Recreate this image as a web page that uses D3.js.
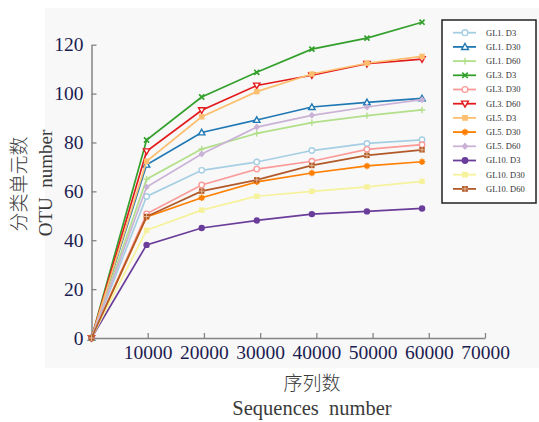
<!DOCTYPE html>
<html>
<head>
<meta charset="utf-8">
<script src="https://cdn.jsdelivr.net/npm/d3@7"></script>
<style>
  body { margin: 0; background: #fff; }
  svg { display: block; }
</style>
</head>
<body>
<div id="chart"></div>
<script>
// rarefaction steps (sequences)
var steps = [0, 9800, 19600, 29400, 39200, 49000, 58800];

// series names and OTU values
var names = ["GL1. D3", "GL1. D30", "GL1. D60", "GL3. D3", "GL3. D30", "GL3. D60",
             "GL5. D3", "GL5. D30", "GL5. D60", "GL10. D3", "GL10. D30", "GL10. D60"];
var gl1d3   = [0, 57.9, 68.6, 72.0, 76.7, 79.6, 81.1];
var gl1d30  = [0, 70.9, 84.1, 89.2, 94.5, 96.4, 98.0];
var gl1d60  = [0, 65.0, 77.3, 83.7, 88.1, 91.0, 93.3];
var gl3d3   = [0, 81.0, 98.6, 108.7, 118.2, 122.7, 129.2];
var gl3d30  = [0, 50.8, 62.6, 69.1, 72.3, 77.2, 79.1];
var gl3d60  = [0, 76.4, 93.2, 103.3, 107.5, 112.2, 114.1];
var gl5d3   = [0, 72.3, 90.5, 100.8, 108.0, 112.4, 115.2];
var gl5d30  = [0, 49.5, 57.4, 63.9, 67.5, 70.4, 72.1];
var gl5d60  = [0, 61.8, 75.3, 86.3, 91.1, 94.5, 97.5];
var gl10d3  = [0, 38.1, 45.0, 48.1, 50.7, 51.8, 53.0];
var gl10d30 = [0, 44.1, 52.3, 58.0, 60.0, 61.8, 64.1];
var gl10d60 = [0, 49.7, 60.1, 64.7, 70.6, 74.7, 77.0];
var values = [gl1d3, gl1d30, gl1d60, gl3d3, gl3d30, gl3d60,
              gl5d3, gl5d30, gl5d60, gl10d3, gl10d30, gl10d60];

var xTicks = [10000, 20000, 30000, 40000, 50000, 60000, 70000];
var yTicks = [0, 20, 40, 60, 80, 100, 120];

var colors = d3.schemePaired.slice();
colors[10] = "#f6f29c"; // the yellow reads a bit paler in the picture
var markers = ["circleOpen", "triUp", "plus", "cross", "circleOpen", "triDown",
               "square", "star", "diamond", "circle", "square", "squareCross"];

var svgWidth = 539, svgHeight = 422;

var svg = d3.select("#chart").append("svg")
  .attr("width", svgWidth)
  .attr("height", svgHeight);

// grey panel behind the chart
svg.append("rect")
  .attr("x", 45).attr("y", 8)
  .attr("width", 494).attr("height", 360)
  .attr("fill", "#f8f8f8");

var x = d3.scaleLinear().domain([0, 70000]).range([91.5, 485]);
var y = d3.scaleLinear().domain([0, 120]).range([338, 44.7]);

var tickColor = "#1c1c50";
var serif = "'Liberation Serif', 'Times New Roman', serif";

// axes
var xAxis = svg.append("g")
  .attr("transform", "translate(0,338)")
  .call(d3.axisBottom(x).tickValues(xTicks).tickFormat(d3.format("d"))
    .tickSizeInner(-5).tickSizeOuter(0).tickPadding(7));

var yAxis = svg.append("g")
  .attr("transform", "translate(91.5,0)")
  .call(d3.axisLeft(y).tickValues(yTicks)
    .tickSizeInner(-5).tickSizeOuter(0).tickPadding(8));

[xAxis, yAxis].forEach(function (g) {
  g.select(".domain").attr("stroke", "#858585").attr("stroke-width", 1.5);
  g.selectAll(".tick line").attr("stroke", "#858585").attr("stroke-width", 1.3);
  g.selectAll(".tick text")
    .attr("fill", tickColor)
    .style("font-family", serif)
    .style("font-size", "19.5px");
});

// marker shapes
function drawMarker(g, type, color, s) {
  var r = s;
  if (type === "circleOpen") {
    g.append("circle").attr("r", r * 0.85).attr("fill", "#fff")
      .attr("stroke", color).attr("stroke-width", 1.4);
  } else if (type === "circle") {
    g.append("circle").attr("r", r).attr("fill", color);
  } else if (type === "triUp" || type === "triDown") {
    var k = type === "triUp" ? 1 : -1;
    g.append("path")
      .attr("d", "M0," + (-r * k) + "L" + r + "," + (r * 0.75 * k) + "L" + (-r) + "," + (r * 0.75 * k) + "Z")
      .attr("fill", "#fff").attr("stroke", color).attr("stroke-width", 1.4);
  } else if (type === "plus") {
    g.append("path").attr("d", "M" + (-r) + ",0H" + r + "M0," + (-r) + "V" + r)
      .attr("stroke", color).attr("stroke-width", 1.4);
  } else if (type === "cross") {
    var c = r * 0.8;
    g.append("path").attr("d", "M" + (-c) + "," + (-c) + "L" + c + "," + c + "M" + (-c) + "," + c + "L" + c + "," + (-c))
      .attr("stroke", color).attr("stroke-width", 1.7);
  } else if (type === "square") {
    g.append("rect").attr("x", -r * 0.85).attr("y", -r * 0.85)
      .attr("width", r * 1.7).attr("height", r * 1.7).attr("fill", color);
  } else if (type === "squareCross") {
    g.append("rect").attr("x", -r * 0.85).attr("y", -r * 0.85)
      .attr("width", r * 1.7).attr("height", r * 1.7).attr("fill", color);
    g.append("path").attr("d", "M" + (-r * 0.85) + ",0H" + (r * 0.85) + "M0," + (-r * 0.85) + "V" + (r * 0.85))
      .attr("stroke", "#f0c9a8").attr("stroke-width", 0.8);
  } else if (type === "star") {
    var p = "";
    for (var i = 0; i < 4; i++) {
      var a = i * Math.PI / 4;
      p += "M" + (-r * Math.cos(a)) + "," + (-r * Math.sin(a)) + "L" + (r * Math.cos(a)) + "," + (r * Math.sin(a));
    }
    g.append("path").attr("d", p).attr("stroke", color).attr("stroke-width", 1.5);
    g.append("circle").attr("r", r * 0.5).attr("fill", color);
  } else if (type === "diamond") {
    g.append("path").attr("d", "M0," + (-r * 1.1) + "L" + r + ",0L0," + (r * 1.1) + "L" + (-r) + ",0Z")
      .attr("fill", color);
  }
}

var line = d3.line()
  .x(function (d, i) { return x(steps[i]); })
  .y(function (d) { return y(d); });

// series
values.forEach(function (vals, k) {
  var g = svg.append("g");
  g.append("path")
    .datum(vals)
    .attr("d", line)
    .attr("fill", "none")
    .attr("stroke", colors[k])
    .attr("stroke-width", 1.7);
  vals.forEach(function (v, i) {
    var m = g.append("g").attr("transform", "translate(" + x(steps[i]) + "," + y(v) + ")");
    drawMarker(m, markers[k], colors[k], 3.2);
  });
});

// legend
var legend = svg.append("g");
legend.append("rect")
  .attr("x", 442).attr("y", 20)
  .attr("width", 94).attr("height", 183)
  .attr("fill", "#fff").attr("stroke", "#222").attr("stroke-width", 1.5);

names.forEach(function (name, k) {
  var ly = 32.7 + k * 14.2;
  var item = legend.append("g").attr("transform", "translate(0," + ly + ")");
  item.append("line")
    .attr("x1", 453).attr("x2", 476)
    .attr("stroke", colors[k]).attr("stroke-width", 1.8);
  var m = item.append("g").attr("transform", "translate(465,0)");
  drawMarker(m, markers[k], colors[k], 3.4);
  item.append("text")
    .attr("x", 486).attr("y", 0)
    .attr("dy", "0.35em")
    .attr("fill", "#333")
    .style("font-family", serif)
    .style("font-size", "8.5px")
    .text(name);
});

// axis titles
var titleColor = "#3a3a3a";
svg.append("text")
  .attr("transform", "translate(26,184) rotate(-90)")
  .attr("text-anchor", "middle")
  .attr("fill", titleColor)
  .style("font-family", "'Noto Sans CJK SC', sans-serif")
  .style("font-size", "19px")
  .style("font-weight", 300)
  .text("分类单元数");

svg.append("text")
  .attr("transform", "translate(52,183) rotate(-90)")
  .attr("text-anchor", "middle")
  .attr("fill", titleColor)
  .style("font-family", serif)
  .style("font-size", "19px")
  .style("white-space", "pre")
  .text("OTU  number");

svg.append("text")
  .attr("x", 312).attr("y", 390)
  .attr("text-anchor", "middle")
  .attr("fill", titleColor)
  .style("font-family", "'Noto Sans CJK SC', sans-serif")
  .style("font-size", "19px")
  .style("font-weight", 300)
  .text("序列数");

svg.append("text")
  .attr("x", 312).attr("y", 415)
  .attr("text-anchor", "middle")
  .attr("fill", titleColor)
  .style("font-family", serif)
  .style("font-size", "20.5px")
  .style("white-space", "pre")
  .text("Sequences  number");
</script>
</body>
</html>
